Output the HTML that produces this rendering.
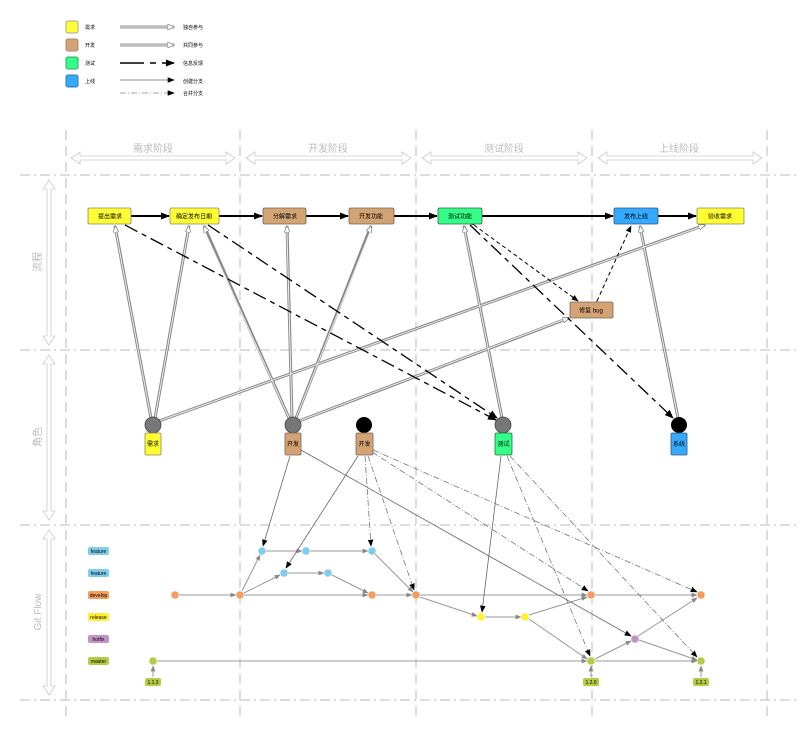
<!DOCTYPE html>
<html><head><meta charset="utf-8"><style>
html,body{margin:0;padding:0;background:#fff}
svg{display:block;font-family:"Liberation Sans","Noto Sans CJK SC",sans-serif}
</style></head><body>
<svg width="800" height="734" viewBox="0 0 800 734" xmlns="http://www.w3.org/2000/svg">
<defs>
<marker id="ab" viewBox="0 0 10 10" refX="9" refY="5" markerWidth="7" markerHeight="7" markerUnits="userSpaceOnUse" orient="auto"><path d="M0,1 L10,5 L0,9 z" fill="#000"/></marker>
<marker id="abig" viewBox="0 0 10 10" refX="9" refY="5" markerWidth="9" markerHeight="9" markerUnits="userSpaceOnUse" orient="auto"><path d="M0,1 L10,5 L0,9 z" fill="#000"/></marker>
<marker id="ag" viewBox="0 0 10 10" refX="9" refY="5" markerWidth="6" markerHeight="6" markerUnits="userSpaceOnUse" orient="auto"><path d="M0,1 L10,5 L0,9 z" fill="#888"/></marker>
<marker id="ao" viewBox="0 0 10 10" refX="9" refY="5" markerWidth="7" markerHeight="7" markerUnits="userSpaceOnUse" orient="auto"><path d="M0,1 L10,5 L0,9 z" fill="#fff" stroke="#777"/></marker>
</defs>

<!-- legend -->
<g font-size="5" fill="#000">
<rect x="66" y="21" width="12" height="12" rx="2" fill="#ffff33" stroke="#aa9"/>
<rect x="66" y="39" width="12" height="12" rx="2" fill="#d4a373" stroke="#a87"/>
<rect x="66" y="57" width="12" height="12" rx="2" fill="#33ff88" stroke="#3a6"/>
<rect x="66" y="75" width="12" height="12" rx="2" fill="#33aaff" stroke="#37a"/>
<text x="85" y="29">需求</text><text x="85" y="47">开发</text><text x="85" y="65">测试</text><text x="85" y="83">上线</text>
<text x="183" y="29">独自参与</text><text x="183" y="47">共同参与</text><text x="183" y="65">信息反馈</text><text x="183" y="83">创建分支</text><text x="183" y="95">合并分支</text>
</g>
<line x1="120" y1="27" x2="174" y2="27" stroke="#999" stroke-width="3" marker-end="url(#ao)"/>
<line x1="120" y1="27" x2="170" y2="27" stroke="#ddd" stroke-width="1"/>
<line x1="120" y1="45" x2="174" y2="45" stroke="#999" stroke-width="3" marker-end="url(#ao)"/>
<line x1="120" y1="45" x2="168" y2="45" stroke="#ddd" stroke-width="1"/>
<line x1="120" y1="63" x2="174" y2="63" stroke="#000" stroke-width="1.5" stroke-dasharray="24,6,6,6" marker-end="url(#abig)"/>
<line x1="120" y1="80" x2="174" y2="80" stroke="#666" stroke-width="0.8" marker-end="url(#ab)"/>
<line x1="120" y1="93" x2="174" y2="93" stroke="#888" stroke-width="0.8" stroke-dasharray="6,2,1,2" marker-end="url(#ab)"/>

<!-- grid -->
<g stroke="#bbb" stroke-width="1" stroke-dasharray="10,6">
<line x1="66" y1="130" x2="66" y2="722"/><line x1="240" y1="130" x2="240" y2="722"/><line x1="416" y1="130" x2="416" y2="722"/><line x1="592" y1="130" x2="592" y2="722"/><line x1="767" y1="130" x2="767" y2="722"/>
</g>
<g stroke="#bbb" stroke-width="1" stroke-dasharray="10,4,2,4">
<line x1="20" y1="175" x2="800" y2="175"/><line x1="20" y1="350" x2="800" y2="350"/><line x1="20" y1="525" x2="800" y2="525"/><line x1="20" y1="700" x2="800" y2="700"/>
</g>
<!-- phase headers -->
<g font-size="10" fill="#bbb" text-anchor="middle">
<text x="153" y="152">需求阶段</text><text x="328" y="152">开发阶段</text><text x="504" y="152">测试阶段</text><text x="679" y="152">上线阶段</text>
</g>
<g fill="#fff" stroke="#ccc" stroke-width="0.8">
<path d="M71,158 L80,152 L80,156 L226,156 L226,152 L235,158 L226,164 L226,160 L80,160 L80,164 z"/>
<path d="M246,158 L255,152 L255,156 L402,156 L402,152 L411,158 L402,164 L402,160 L255,160 L255,164 z"/>
<path d="M422,158 L431,152 L431,156 L578,156 L578,152 L587,158 L578,164 L578,160 L431,160 L431,164 z"/>
<path d="M598,158 L607,152 L607,156 L753,156 L753,152 L762,158 L753,164 L753,160 L607,160 L607,164 z"/>
<path d="M49,180 L55,189 L51,189 L51,336 L55,336 L49,345 L43,336 L47,336 L47,189 L43,189 z"/>
<path d="M49,355 L55,364 L51,364 L51,511 L55,511 L49,520 L43,511 L47,511 L47,364 L43,364 z"/>
<path d="M49,530 L55,539 L51,539 L51,686 L55,686 L49,695 L43,686 L47,686 L47,539 L43,539 z"/>
</g>
<g font-size="10" fill="#bbb" text-anchor="middle">
<text transform="translate(41,262) rotate(-90)">流程</text>
<text transform="translate(41,437) rotate(-90)">角色</text>
<text transform="translate(41,612) rotate(-90)">Git Flow</text>
</g>

<!-- double-line connectors role→flow -->
<g fill="none">
<g stroke="#888" stroke-width="3" marker-end="url(#ao)">
<line x1="151" y1="418" x2="115" y2="226"/><line x1="155" y1="418" x2="189" y2="226"/><line x1="159" y1="421" x2="705" y2="225"/>
<line x1="289" y1="418" x2="204" y2="226"/><line x1="292" y1="418" x2="287" y2="226"/><line x1="296" y1="418" x2="371" y2="226"/><line x1="299" y1="421" x2="569" y2="318"/>
<line x1="502" y1="418" x2="464" y2="226"/><line x1="678" y1="418" x2="640" y2="226"/>
</g>
<g stroke="#eee" stroke-width="1">
<line x1="151" y1="418" x2="116" y2="232"/><line x1="155" y1="418" x2="188" y2="232"/><line x1="159" y1="421" x2="700" y2="227"/>
<line x1="289" y1="418" x2="205" y2="232"/><line x1="292" y1="418" x2="287" y2="232"/><line x1="296" y1="418" x2="370" y2="232"/><line x1="299" y1="421" x2="563" y2="320"/>
<line x1="502" y1="418" x2="465" y2="232"/><line x1="678" y1="418" x2="641" y2="232"/>
</g>
</g>
<!-- dashed feedback -->
<g fill="none" stroke="#000" stroke-width="1.3" stroke-dasharray="14,5,5,5" marker-end="url(#abig)">
<line x1="125" y1="225" x2="496" y2="420"/><line x1="208" y1="225" x2="497" y2="418"/><line x1="470" y1="225" x2="673" y2="418"/>
</g>
<g fill="none" stroke="#000" stroke-width="1" stroke-dasharray="4,3">
<line x1="474" y1="225" x2="578" y2="301" marker-end="url(#ab)" marker-start="url(#ab)"/>
<line x1="597" y1="301" x2="631" y2="226" marker-end="url(#ab)" marker-start="url(#ab)"/>
</g>
<!-- flow arrows -->
<g stroke="#000" stroke-width="2" marker-end="url(#abig)">
<line x1="131" y1="216" x2="169" y2="216"/><line x1="219" y1="216" x2="262" y2="216"/><line x1="306" y1="216" x2="348" y2="216"/><line x1="394" y1="216" x2="437" y2="216"/><line x1="482" y1="216" x2="613" y2="216"/><line x1="658" y1="216" x2="696" y2="216"/>
</g>
<!-- flow boxes -->
<g font-size="6" text-anchor="middle" stroke-width="0.8">
<rect x="88" y="208" width="43" height="16" rx="1.5" fill="#ffff33" stroke="#886"/><text x="110" y="218.5">提出需求</text>
<rect x="170" y="208" width="49" height="16" rx="1.5" fill="#ffff33" stroke="#886"/><text x="194" y="218.5">确定发布日期</text>
<rect x="263" y="208" width="43" height="16" rx="1.5" fill="#d4a373" stroke="#765"/><text x="285" y="218.5">分解需求</text>
<rect x="349" y="208" width="45" height="16" rx="1.5" fill="#d4a373" stroke="#765"/><text x="371" y="218.5">开发功能</text>
<rect x="438" y="208" width="44" height="16" rx="1.5" fill="#33ff88" stroke="#364"/><text x="460" y="218.5">测试功能</text>
<rect x="614" y="208" width="44" height="16" rx="1.5" fill="#33aaff" stroke="#357"/><text x="636" y="218.5">发布上线</text>
<rect x="697" y="208" width="47" height="16" rx="1.5" fill="#ffff33" stroke="#886"/><text x="720" y="218.5">验收需求</text>
<rect x="570" y="302" width="43" height="16" rx="1.5" fill="#d4a373" stroke="#765"/><text x="591" y="312.5">修复 bug</text>
</g>

<!-- git edges -->
<g fill="none" stroke="#999" stroke-width="1" marker-end="url(#ag)">
<line x1="179" y1="595" x2="236" y2="595"/><line x1="242" y1="591" x2="260" y2="555"/><line x1="244" y1="593" x2="280" y2="575"/>
<line x1="266" y1="551" x2="302" y2="551"/><line x1="310" y1="551" x2="368" y2="551"/>
<line x1="288" y1="573" x2="324" y2="573"/><line x1="332" y1="575" x2="368" y2="593"/>
<line x1="244" y1="595" x2="368" y2="595"/><line x1="376" y1="595" x2="412" y2="595"/><line x1="375" y1="554" x2="413" y2="592"/>
<line x1="420" y1="595" x2="587" y2="595"/><line x1="420" y1="597" x2="477" y2="616"/><line x1="485" y1="617" x2="521" y2="617"/>
<line x1="529" y1="615" x2="587" y2="597"/><line x1="529" y1="619" x2="587" y2="659"/>
<line x1="595" y1="595" x2="697" y2="595"/><line x1="595" y1="659" x2="631" y2="641"/><line x1="638" y1="636" x2="697" y2="598"/><line x1="639" y1="640" x2="697" y2="660"/>
<line x1="157" y1="661" x2="587" y2="661"/><line x1="595" y1="661" x2="697" y2="661"/>
<line x1="153" y1="677" x2="153" y2="666"/><line x1="591" y1="677" x2="591" y2="666"/><line x1="701" y1="677" x2="701" y2="666"/>
</g>
<!-- role→git create branch -->
<g fill="none" stroke="#666" stroke-width="0.8" marker-end="url(#ab)">
<line x1="290" y1="456" x2="263" y2="546"/><line x1="358" y1="456" x2="286" y2="568"/><line x1="301" y1="450" x2="631" y2="636"/><line x1="501" y1="456" x2="482" y2="612"/>
</g>
<g fill="none" stroke="#777" stroke-width="0.8" stroke-dasharray="6,2,1,2" marker-end="url(#ab)">
<line x1="365" y1="456" x2="371" y2="546"/><line x1="368" y1="456" x2="414" y2="590"/><line x1="372" y1="452" x2="588" y2="591"/><line x1="373" y1="450" x2="697" y2="592"/>
<line x1="507" y1="456" x2="590" y2="656"/><line x1="510" y1="456" x2="697" y2="657"/>
</g>

<!-- git labels -->
<g font-size="5" text-anchor="middle">
<rect x="88" y="547" width="21" height="8" rx="2" fill="#7fcdea"/><text x="98.5" y="553">feature</text>
<rect x="88" y="569" width="21" height="8" rx="2" fill="#7fcdea"/><text x="98.5" y="575">feature</text>
<rect x="88" y="591" width="21" height="8" rx="2" fill="#f59d5a"/><text x="98.5" y="597">develop</text>
<rect x="88" y="613" width="21" height="8" rx="2" fill="#fff033"/><text x="98.5" y="619">release</text>
<rect x="88" y="635" width="21" height="8" rx="2" fill="#c393c6"/><text x="98.5" y="641">hotfix</text>
<rect x="88" y="657" width="21" height="8" rx="2" fill="#b2cc44"/><text x="98.5" y="663">master</text>
<rect x="145" y="678" width="16" height="8" rx="2" fill="#b2cc44"/><text x="153" y="684">1.1.3</text>
<rect x="583" y="678" width="16" height="8" rx="2" fill="#b2cc44"/><text x="591" y="684">1.2.0</text>
<rect x="693" y="678" width="16" height="8" rx="2" fill="#b2cc44"/><text x="701" y="684">1.2.1</text>
</g>
<g stroke="#fff" stroke-width="0.5">
<g fill="#7fcdea"><circle cx="262" cy="551" r="4"/><circle cx="306" cy="551" r="4"/><circle cx="372" cy="551" r="4"/><circle cx="284" cy="573" r="4"/><circle cx="328" cy="573" r="4"/></g>
<g fill="#f59d5a"><circle cx="175" cy="595" r="4"/><circle cx="240" cy="595" r="4"/><circle cx="372" cy="595" r="4"/><circle cx="416" cy="595" r="4"/><circle cx="591" cy="595" r="4"/><circle cx="701" cy="595" r="4"/></g>
<g fill="#fff033"><circle cx="481" cy="617" r="4"/><circle cx="525" cy="617" r="4"/></g>
<circle cx="635" cy="639" r="4" fill="#c393c6"/>
<g fill="#b2cc44"><circle cx="153" cy="661" r="4"/><circle cx="591" cy="661" r="4"/><circle cx="701" cy="661" r="4"/></g>
</g>

<!-- roles -->
<g font-size="6" text-anchor="middle" stroke-width="0.8">
<circle cx="153" cy="425" r="8" fill="#777" stroke="#444"/><rect x="145" y="433" width="16" height="22" rx="1.5" fill="#ffff33" stroke="#886"/><text x="153" y="446">需求</text>
<circle cx="293" cy="425" r="8" fill="#777" stroke="#444"/><rect x="285" y="433" width="16" height="22" rx="1.5" fill="#d4a373" stroke="#765"/><text x="293" y="446">开发</text>
<circle cx="364" cy="425" r="8" fill="#000"/><rect x="356" y="433" width="17" height="22" rx="1.5" fill="#d4a373" stroke="#765"/><text x="364.5" y="446">开发</text>
<circle cx="503" cy="425" r="8" fill="#777" stroke="#444"/><rect x="495" y="433" width="17" height="22" rx="1.5" fill="#33ff88" stroke="#364"/><text x="503.5" y="446">测试</text>
<circle cx="679" cy="425" r="8" fill="#000"/><rect x="671" y="433" width="16" height="22" rx="1.5" fill="#33aaff" stroke="#357"/><text x="679" y="446">系统</text>
</g>
</svg>
</body></html>
